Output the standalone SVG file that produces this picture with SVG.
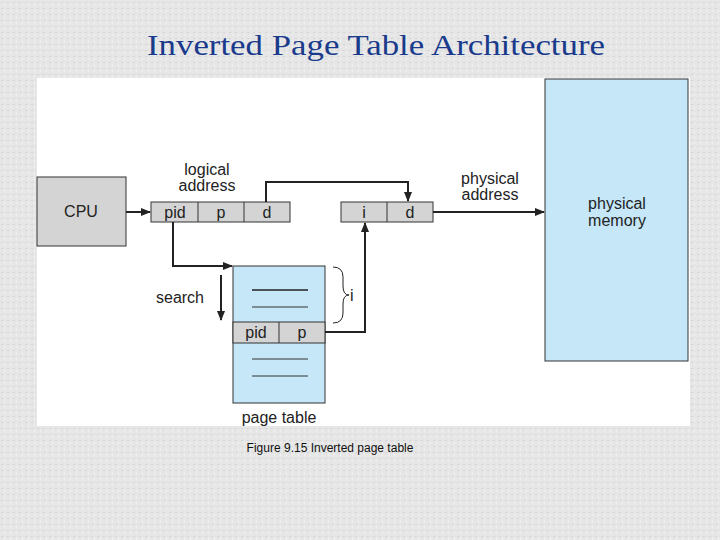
<svg xmlns="http://www.w3.org/2000/svg" width="720" height="540" viewBox="0 0 720 540">
<defs>
<marker id="ah" markerWidth="10" markerHeight="8" refX="9" refY="4" orient="auto" markerUnits="userSpaceOnUse"><path d="M0,0 L10,4 L0,8 z" fill="#222"/></marker>
<pattern id="tex" width="6" height="6" patternUnits="userSpaceOnUse"><rect width="6" height="6" fill="#e6e6e6"/><rect x="1" y="2" width="2" height="1" fill="#d4d4d4"/><rect x="4" y="4" width="1" height="2" fill="#f2f2f2"/></pattern>
<style>
.t{font-family:"Liberation Sans",Arial,sans-serif;font-size:16px;fill:#222}
.c{stroke:#222;stroke-width:2;fill:none}
.g{fill:#d4d4d4;stroke:#333;stroke-width:1}
</style>
</defs>
<rect width="720" height="540" fill="url(#tex)"/>
<text x="376" y="55" text-anchor="middle" font-family="Liberation Serif,serif" font-size="30" fill="#1a3b8c" textLength="458" lengthAdjust="spacingAndGlyphs">Inverted Page Table Architecture</text>
<rect x="37" y="78" width="653" height="348" fill="#fff"/>
<g id="memory"><rect x="545" y="79" width="143" height="282" fill="#c5e7f8" stroke="#333"/><text class="t" x="617" y="209" text-anchor="middle">physical</text><text class="t" x="617" y="226" text-anchor="middle">memory</text></g>
<g id="cpu"><rect x="37" y="177" width="89" height="69" class="g"/><text class="t" x="81" y="217" text-anchor="middle">CPU</text></g>
<g id="logical"><rect x="151" y="202" width="139" height="20" class="g"/><line x1="198" y1="202" x2="198" y2="222" stroke="#333"/><line x1="244" y1="202" x2="244" y2="222" stroke="#333"/>
<text class="t" x="175" y="218" text-anchor="middle">pid</text><text class="t" x="221" y="218" text-anchor="middle">p</text><text class="t" x="267" y="218" text-anchor="middle">d</text>
<text class="t" x="207" y="175" text-anchor="middle">logical</text><text class="t" x="207" y="191" text-anchor="middle">address</text></g>
<g id="physaddr"><rect x="341" y="202" width="92" height="20" class="g"/><line x1="387" y1="202" x2="387" y2="222" stroke="#333"/>
<text class="t" x="364" y="218" text-anchor="middle">i</text><text class="t" x="410" y="218" text-anchor="middle">d</text>
<text class="t" x="490" y="184" text-anchor="middle">physical</text><text class="t" x="490" y="200" text-anchor="middle">address</text></g>
<g id="pagetable"><rect x="233" y="266" width="92" height="137" fill="#c5e7f8" stroke="#333"/>
<rect x="233" y="322" width="92" height="21" class="g"/><line x1="279" y1="322" x2="279" y2="343" stroke="#333"/>
<text class="t" x="256" y="338" text-anchor="middle">pid</text><text class="t" x="302" y="338" text-anchor="middle">p</text>
<line x1="252" y1="290" x2="308" y2="290" stroke="#222" stroke-width="1.5"/><line x1="252" y1="307" x2="308" y2="307" stroke="#333"/>
<line x1="252" y1="359" x2="308" y2="359" stroke="#333"/><line x1="252" y1="376" x2="308" y2="376" stroke="#333"/>
<text class="t" x="279" y="423" text-anchor="middle">page table</text>
<path d="M333,267 Q343,267 343,277 L343,286 Q343,295 349,295 Q343,295 343,304 L343,313 Q343,323 333,323" fill="none" stroke="#222"/>
<text class="t" x="350" y="301">i</text>
<text class="t" x="180" y="303" text-anchor="middle">search</text></g>
<g id="connectors">
<path class="c" d="M126,212 H150" marker-end="url(#ah)"/>
<path class="c" d="M173,222 V266 H232" marker-end="url(#ah)"/>
<path class="c" d="M266,202 V182 H408 V201" marker-end="url(#ah)"/>
<path class="c" d="M325,332 H365 V223" marker-end="url(#ah)"/>
<path class="c" d="M221,275 V320" marker-end="url(#ah)"/>
<path class="c" d="M433,212 H544" stroke-width="1.5" marker-end="url(#ah)"/>
</g>
<text x="330" y="452" text-anchor="middle" font-family="Liberation Sans,Arial,sans-serif" font-size="12" fill="#111">Figure 9.15 Inverted page table</text>
</svg>
